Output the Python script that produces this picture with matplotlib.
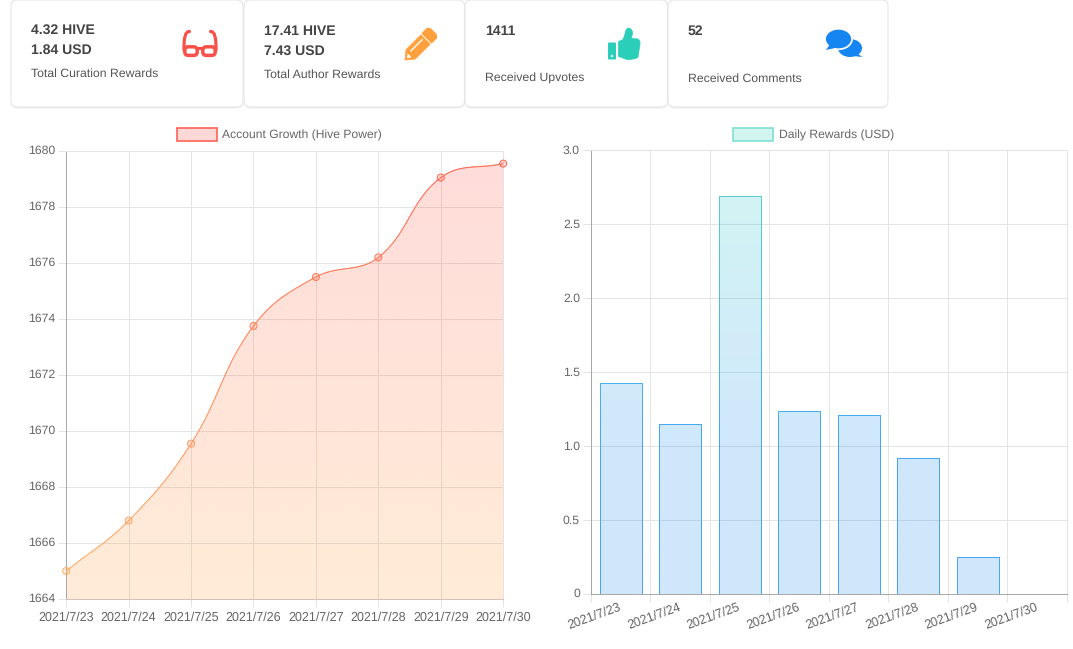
import numpy as np
import matplotlib
matplotlib.use('Agg')
import matplotlib.pyplot as plt
from matplotlib.collections import LineCollection
from matplotlib.colors import LinearSegmentedColormap, to_rgb
from matplotlib.patches import Circle, Ellipse, FancyBboxPatch, PathPatch, Polygon, Rectangle
from matplotlib.path import Path
from matplotlib.transforms import ScaledTranslation

plt.rcParams['font.family'] = ['Liberation Sans', 'DejaVu Sans']
plt.rcParams['text.hinting'] = 'none'
plt.rcParams['text.hinting_factor'] = 8

# dati
dates = ['2021/7/23', '2021/7/24', '2021/7/25', '2021/7/26',
         '2021/7/27', '2021/7/28', '2021/7/29', '2021/7/30']
hive_power = [1665.0, 1666.8, 1669.55, 1673.75, 1675.5, 1676.2, 1679.05, 1679.55]
daily_rewards = [1.43, 1.15, 2.69, 1.24, 1.21, 0.92, 0.25, 0.0]
hp_ticks = [1664, 1666, 1668, 1670, 1672, 1674, 1676, 1678, 1680]
usd_ticks = [0, 0.5, 1.0, 1.5, 2.0, 2.5, 3.0]
usd_tick_labels = ['0', '0.5', '1.0', '1.5', '2.0', '2.5', '3.0']
card_values = [['4.32 HIVE', '1.84 USD'], ['17.41 HIVE', '7.43 USD'], ['1411'], ['52']]
card_labels = ['Total Curation Rewards', 'Total Author Rewards', 'Received Upvotes', 'Received Comments']

W, H = 1073, 649
GRID = '#e4e4e4'
AXIS = '#a8a8a8'
TXT = '#666666'
PX = 0.72  # px -> pt a 100 dpi
FS_LEG = 12.1 * PX
FS_X = 12.5 * PX
FS_Y = 12.2 * PX

fig = plt.figure(figsize=(W / 100, H / 100), dpi=100, facecolor='white')

# livello in pixel per card e icone
bg = fig.add_axes([0, 0, 1, 1], zorder=0)
bg.set_xlim(0, W)
bg.set_ylim(H, 0)
bg.axis('off')


def axes_px(left, top, right, bottom):
    return fig.add_axes([left / W, 1 - bottom / H, (right - left) / W, (bottom - top) / H], zorder=1)


def draw_card(x0, x1, value_lines, label, text_x, value_ys, label_y):
    for off, a in [(2.5, 0.015), (1.5, 0.03), (0.7, 0.05)]:
        bg.add_patch(FancyBboxPatch((x0, 0), x1 - x0, 107 + off,
                                    boxstyle='round,pad=0,rounding_size=7',
                                    fc='black', ec='none', alpha=a))
    bg.add_patch(FancyBboxPatch((x0, 0), x1 - x0, 107, boxstyle='round,pad=0,rounding_size=6',
                                fc='white', ec='#e6e6e6', lw=0.8))
    for line, y in zip(value_lines, value_ys):
        bg.text(text_x, y, line, fontsize=14 * PX, fontweight='bold', color='#444444', va='center', ha='left')
    bg.text(text_x, label_y, label, fontsize=12.3 * PX, color='#555555', va='center', ha='left')


draw_card(11, 243, card_values[0], card_labels[0], 31, [30.2, 50.2], 73.8)
draw_card(244, 464.5, card_values[1], card_labels[1], 264, [31.2, 51.2], 74.6)
draw_card(465, 667.5, card_values[2], card_labels[2], 485, [31.2], 78.6)
draw_card(668, 888, card_values[3], card_labels[3], 688, [31.2], 78.6)

# occhiali
RED = '#f9504a'
for cx, sgn in [(191, -1), (209, 1)]:
    bg.add_patch(FancyBboxPatch((cx - 6.2, 46.8), 12.4, 8.6, boxstyle='round,pad=0,rounding_size=3.6',
                                fc='none', ec=RED, lw=3.5 * PX))
    arm = Path([(cx + sgn * 7, 50), (cx + sgn * 7.6, 31), (cx + sgn * 1.5, 31.5)],
               [Path.MOVETO, Path.CURVE3, Path.CURVE3])
    bg.add_patch(PathPatch(arm, fc='none', ec=RED, lw=3.2 * PX, capstyle='round'))
bg.add_patch(Rectangle((196, 47), 8, 2.8, fc=RED, ec='none'))

# matita
ORANGE = '#ffa03c'
u = np.array([1, -1]) / np.sqrt(2)
v = np.array([1, 1]) / np.sqrt(2)
tip = np.array([405.0, 60.0])


def pen(a, b):
    return tuple(tip + a * u + b * v)


bg.add_patch(Polygon([pen(0, 0), pen(8, -6.6), pen(29, -6.6), pen(29, 6.6), pen(8, 6.6)],
                     fc=ORANGE, ec=ORANGE, lw=0.5, joinstyle='round'))
bg.add_patch(Polygon([pen(31, -6.6), pen(38, -6.6), pen(40, -4), pen(40, 4), pen(38, 6.6), pen(31, 6.6)],
                     fc=ORANGE, ec=ORANGE, lw=1, joinstyle='round'))
bg.add_patch(Polygon([pen(10, -3), pen(27, -3), pen(27, -1.6), pen(10, -1.6)], fc='white', ec='none'))
bg.add_patch(Polygon([pen(2.5, 0), pen(6.5, -2.6), pen(6.5, 2.6)], fc='white', ec='none'))

# pollice
TEAL = '#2bcfb9'
bg.add_patch(FancyBboxPatch((608, 42.5), 8, 17, boxstyle='round,pad=0,rounding_size=1', fc=TEAL, ec='none'))
bg.add_patch(Circle((612, 56), 1.2, fc='white', ec='none'))
hand = Path([(618.5, 41.5), (623, 39.5), (625, 34), (625.5, 29), (628, 28), (632.5, 28.5), (632.5, 33), (631.5, 38.5),
             (637, 38.8), (640.5, 39.5), (640, 44), (638, 57), (636.5, 59.5), (627, 59.5), (618.5, 56.5), (618.5, 41.5)],
            [Path.MOVETO, Path.LINETO, Path.LINETO, Path.CURVE3, Path.CURVE3, Path.CURVE3, Path.CURVE3, Path.LINETO,
             Path.LINETO, Path.CURVE3, Path.CURVE3, Path.LINETO, Path.CURVE3, Path.CURVE3, Path.LINETO, Path.CLOSEPOLY])
bg.add_patch(PathPatch(hand, fc=TEAL, ec=TEAL, lw=0.5, joinstyle='round'))

# commenti
BLUE = '#1585f2'
bg.add_patch(Ellipse((850, 48), 24, 18, fc=BLUE, ec='none'))
bg.add_patch(Polygon([(855, 52), (862.5, 57), (853, 56)], fc=BLUE, ec='none'))
bg.add_patch(Ellipse((838.5, 39), 27, 20.5, fc=BLUE, ec='white', lw=1.3))
bg.add_patch(Polygon([(830, 44), (826, 50), (836, 47.8)], fc=BLUE, ec='none'))


def legend_box(x0, x1, fc, ec, label, text_x):
    bg.add_patch(Rectangle((x0, 128.4), x1 - x0, 12.8, fc=fc, ec=ec, lw=1.2))
    bg.text(text_x, 135, label, fontsize=FS_LEG, color=TXT, va='center', ha='left')


legend_box(176.6, 216.6, '#fcd9d6', '#ff6258', 'Account Growth (Hive Power)', 222)
legend_box(733, 773, '#d2f4ef', '#7fe0d3', 'Daily Rewards (USD)', 779)


def gradient_image(ax, cmap, alpha, clip_patch):
    x0, x1 = ax.get_xlim()
    y0, y1 = ax.get_ylim()
    rgba = cmap(np.linspace(1, 0, 256))[:, None, :].copy()
    rgba[..., 3] = alpha
    im = ax.imshow(rgba, extent=(x0, x1, y0, y1), aspect='auto', interpolation='bilinear', zorder=1.5)
    ax.set_xlim(x0, x1)
    ax.set_ylim(y0, y1)
    im.set_clip_path(clip_patch)
    return im


def gradient_line(ax, x, y, cmap, lw=1.0):
    y0, y1 = ax.get_ylim()
    x, y = np.asarray(x), np.asarray(y)
    seg = np.stack([np.column_stack([x[:-1], y[:-1]]), np.column_stack([x[1:], y[1:]])], axis=1)
    mid = ((y[:-1] + y[1:]) / 2 - y0) / (y1 - y0)
    ax.add_collection(LineCollection(seg, colors=cmap(mid), linewidths=lw * PX, zorder=3, capstyle='round'))


def style_axes(ax):
    ax.set_axisbelow(True)
    ax.grid(True, color=GRID, lw=PX)
    ax.spines['left'].set_color(AXIS)
    for s in ['top', 'right']:
        ax.spines[s].set_color(GRID)
    for s in ax.spines.values():
        s.set_linewidth(PX)


def raise_labels(ax, px):
    # le etichette y del riferimento stanno un pixel sopra il tick
    for lab in ax.get_yticklabels():
        lab.set_transform(lab.get_transform() + ScaledTranslation(0, px / 100, fig.dpi_scale_trans))


# grafico di sinistra
ax1 = axes_px(66.2, 151, 503.2, 599)
ax1.set_xlim(0, 7)
ax1.set_ylim(1664, 1680)
ax1.set_xticks(range(len(dates)), dates)
ax1.set_yticks(hp_ticks, [str(t) for t in hp_ticks])
style_axes(ax1)
ax1.spines['bottom'].set_color('#cfc4bc')
ax1.tick_params(axis='y', length=8 * PX, width=PX, color=GRID, labelcolor=TXT, labelsize=FS_Y, pad=2)
ax1.tick_params(axis='x', length=8 * PX, width=PX, color=GRID, labelcolor=TXT, labelsize=FS_X, pad=3.2)
ax1.xaxis.get_major_ticks()[0].tick1line.set_color(AXIS)
raise_labels(ax1, 1)

line_cmap = LinearSegmentedColormap.from_list('l', ['#ffb468', '#ff6350'])
fill_cmap = LinearSegmentedColormap.from_list('f', ['#ff9f3c', '#ff4f46'])

# curva di Bezier con tensione 0.4, calcolata in pixel
px_pts = ax1.transData.transform(np.column_stack([np.arange(len(hive_power)), hive_power]))
sampled = [px_pts[0]]
n = len(px_pts)
ctrl_next, ctrl_prev = [], []
for i in range(n):
    p0 = px_pts[max(i - 1, 0)]
    p1 = px_pts[i]
    p2 = px_pts[min(i + 1, n - 1)]
    d01 = np.hypot(*(p1 - p0))
    d12 = np.hypot(*(p2 - p1))
    s01 = d01 / (d01 + d12)
    s12 = d12 / (d01 + d12)
    ctrl_prev.append(p1 - 0.4 * s01 * (p2 - p0))
    ctrl_next.append(p1 + 0.4 * s12 * (p2 - p0))
for i in range(n - 1):
    t = np.linspace(0, 1, 41)[1:, None]
    seg = ((1 - t) ** 3 * px_pts[i] + 3 * (1 - t) ** 2 * t * ctrl_next[i]
           + 3 * (1 - t) * t ** 2 * ctrl_prev[i + 1] + t ** 3 * px_pts[i + 1])
    sampled.extend(seg)
curve_xy = ax1.transData.inverted().transform(np.array(sampled))

area = np.vstack([curve_xy, [7, 1664], [0, 1664]])
clip1 = Polygon(area, closed=True, transform=ax1.transData, fc='none', ec='none')
ax1.add_patch(clip1)
gradient_image(ax1, fill_cmap, 0.2, clip1)
gradient_line(ax1, curve_xy[:, 0], curve_xy[:, 1], line_cmap)

norm_hp = (np.array(hive_power) - 1664) / 16
pt_edge = line_cmap(norm_hp)
pt_face = pt_edge.copy()
pt_face[:, 3] = 0.25
ax1.scatter(range(len(hive_power)), hive_power, s=(7 * PX) ** 2, facecolors=pt_face, edgecolors=pt_edge,
            linewidths=PX, zorder=4, clip_on=False)

# grafico di destra
ax2 = axes_px(590.8, 150.3, 1066.8, 594)
ax2.set_xlim(-0.5, 7.5)
ax2.set_ylim(0, 3.0)
ax2.set_xticks(range(len(dates)), dates)
ax2.set_xticks(np.arange(-0.5, 8, 1), minor=True)
ax2.set_yticks(usd_ticks, usd_tick_labels)
style_axes(ax2)
ax2.spines['bottom'].set_color(AXIS)
ax2.grid(False, axis='x', which='major')
ax2.grid(True, axis='x', which='minor', color=GRID, lw=PX)
ax2.tick_params(axis='x', which='major', length=0, labelcolor=TXT, labelsize=FS_X, pad=9.5)
ax2.tick_params(axis='x', which='minor', length=8 * PX, width=PX, color=GRID)
ax2.tick_params(axis='y', length=8 * PX, width=PX, color=GRID, labelcolor=TXT, labelsize=FS_Y, pad=2)
ax2.yaxis.get_major_ticks()[0].tick1line.set_color(AXIS)
ax2.xaxis.get_minor_ticks()[0].tick1line.set_color(AXIS)
raise_labels(ax2, 1)
for lab in ax2.get_xticklabels():
    lab.set(rotation=20, ha='right', va='center', rotation_mode='anchor')

c_top, c_bot = to_rgb('#2bd0c0'), to_rgb('#1e90f0')
bar_fill = LinearSegmentedColormap.from_list('bf', [(0, c_bot), (0.33, c_bot), (1, c_top)])
bar_edge = LinearSegmentedColormap.from_list('be', [(0, '#45a5f2'), (0.33, '#45a5f2'), (1, '#5dd5cc')])

bar_w = 0.705
bars = ax2.bar(range(len(daily_rewards)), daily_rewards, width=bar_w, fc='none', ec='none')
for rect, val in zip(bars, daily_rewards):
    if val <= 0:
        continue
    x0 = rect.get_x()
    x1 = x0 + rect.get_width()
    clip = Rectangle((x0, 0), rect.get_width(), val, transform=ax2.transData, fc='none', ec='none')
    ax2.add_patch(clip)
    gradient_image(ax2, bar_fill, 0.21, clip)
    ys = np.linspace(0, val, 60)
    gradient_line(ax2, np.r_[np.full(60, x0), x1, np.full(60, x1)], np.r_[ys, val, ys[::-1]], bar_edge)

fig.savefig('out.png', dpi=100)
